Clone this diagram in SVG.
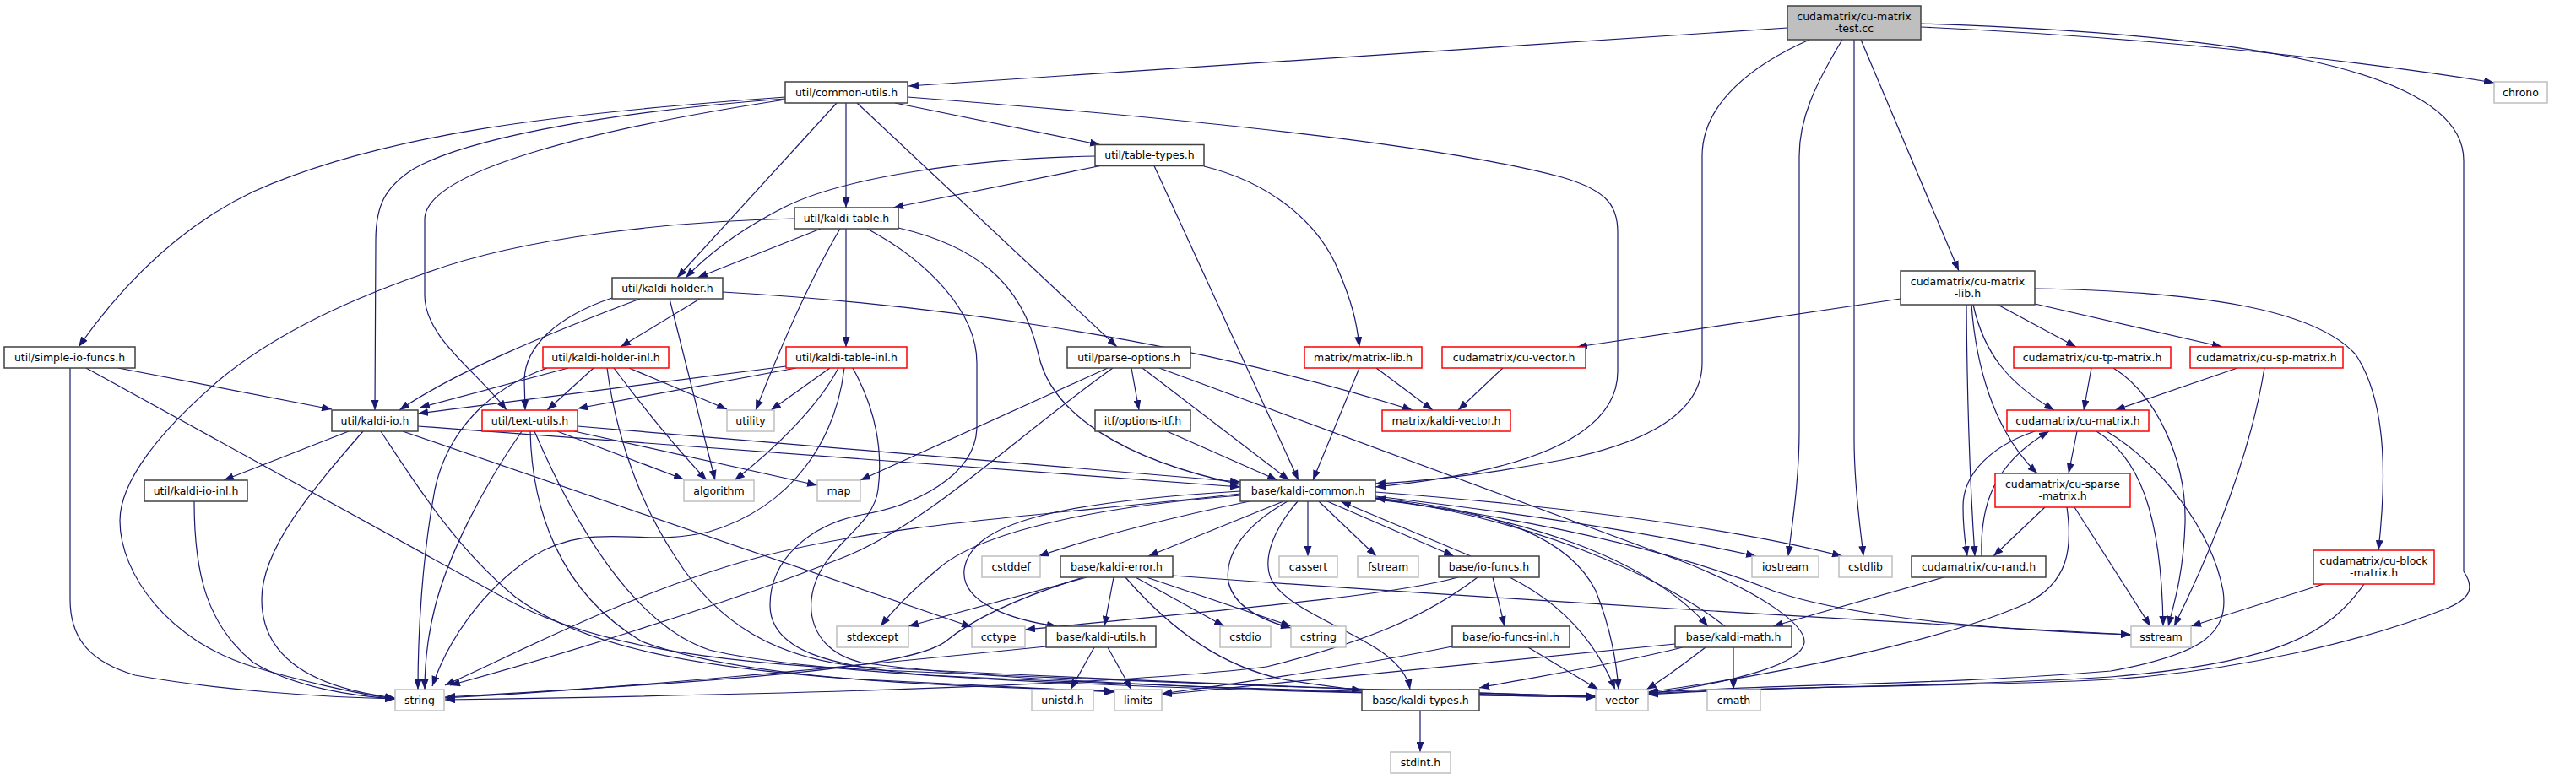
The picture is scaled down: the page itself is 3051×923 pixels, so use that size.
<svg xmlns="http://www.w3.org/2000/svg" width="3051" height="923" viewBox="0 0 3051 923">
<defs>
<marker id="a" markerUnits="userSpaceOnUse" markerWidth="12" markerHeight="9" viewBox="0 0 12 9" refX="12" refY="4.5" orient="auto">
<path d="M0,0 L12,4.5 L0,9 z" fill="#191970"/>
</marker>
</defs>
<style>
rect{fill:#ffffff;stroke:#404040;stroke-width:1.5}
.r rect{stroke:#ff0000}
.g rect{stroke:#bfbfbf}
.t rect{fill:#bfbfbf}
text{font-family:"DejaVu Sans",sans-serif;font-size:12.5px;text-anchor:middle;fill:#000000}
#edges path{fill:none;stroke:#191970;stroke-width:1.2;marker-end:url(#a)}
</style>
<rect x="0" y="0" width="3051" height="923" style="fill:#ffffff;stroke:none"/>
<g id="edges">
<path d="M2117,33 L1076,102"/>
<path d="M2275,32 C2500,42 2760,66 2954,98"/>
<path d="M2275,28 C2650,40 2918,80 2918,190 L2918,677 C2930,695 2928,708 2900,720 C2800,760 2650,795 2500,805 C2300,815 2100,812 1952,822"/>
<path d="M2196,47 L2196,520 C2196,580 2204,630 2207,659"/>
<path d="M2182,47 C2150,100 2131,140 2131,185 L2131,510 C2131,570 2122,625 2118,659"/>
<path d="M2143,47 C2080,75 2016,120 2016,185 L2016,430 C2016,490 1950,525 1850,545 C1760,562 1690,570 1629,573"/>
<path d="M2204,47 L2320,321"/>
<path d="M930,115 C650,135 450,160 300,227 C220,265 150,330 93,411"/>
<path d="M930,117 C750,130 560,160 490,200 C455,222 445,245 445,285 L444,486"/>
<path d="M930,118 C720,150 503,200 503,260 L503,350 C503,400 565,440 600,486"/>
<path d="M991,122 L802,329"/>
<path d="M1002,122 L1002,246"/>
<path d="M1015,122 L1323,411"/>
<path d="M1060,122 L1303,171.5"/>
<path d="M1075,115 C1400,140 1700,170 1850,210 C1905,226 1916,245 1916,275 L1916,440 C1916,520 1800,560 1629,577"/>
<path d="M1303,196.5 L1058,246"/>
<path d="M1297,185 C1150,188 1000,210 930,245 C880,270 840,300 812,329"/>
<path d="M1367,196.5 L1538,569"/>
<path d="M1426,197 C1500,215 1560,260 1585,320 C1600,355 1607,380 1610,411"/>
<path d="M972,271 L826,329"/>
<path d="M1002,271 L1002,411"/>
<path d="M941,259 C800,262 620,280 500,325 C400,360 320,400 260,450 C190,510 142,570 142,617 C142,680 200,760 300,790 C350,805 420,822 468,828"/>
<path d="M995,271 C960,330 925,410 895,486"/>
<path d="M1064,270 C1150,290 1210,330 1230,420 C1245,490 1330,545 1469,574"/>
<path d="M1027,271 C1100,310 1157,370 1157,430 L1157,505 C1157,565 1080,600 1020,610 C960,622 912,662 912,717 C912,770 980,790 1100,800 C1400,815 1700,822 1890,825"/>
<path d="M829,354 L735,411"/>
<path d="M758,354 C650,395 540,440 473,486"/>
<path d="M725,353 C660,375 622,410 621,450 L622,486"/>
<path d="M793,354 L847,569"/>
<path d="M856,346 C1100,360 1400,400 1673,486"/>
<path d="M140,436 L393,485"/>
<path d="M83,436 L83,710 C83,760 110,785 160,800 C260,818 380,826 468,828"/>
<path d="M102,436 C200,490 400,600 600,710 C700,765 850,785 1020,793 C1400,810 1700,820 1890,825"/>
<path d="M413,511 L265,569"/>
<path d="M430,511 C370,580 310,650 310,710 C310,780 370,815 468,827"/>
<path d="M451,511 C490,570 540,650 610,707 C680,760 800,790 1020,805 C1150,812 1250,817 1320,820"/>
<path d="M477,511 L1151,743"/>
<path d="M495,505 L1469,577"/>
<path d="M230,594 C230,680 245,740 300,785 C350,815 420,825 468,828"/>
<path d="M673,436 C600,455 545,470 497,483"/>
<path d="M703,436 L648,486"/>
<path d="M745,436 L861,485"/>
<path d="M727,436 C760,480 800,530 837,569"/>
<path d="M648,436 C580,460 530,510 515,580 C500,660 495,750 495,817"/>
<path d="M719,436 C730,520 760,600 800,660 C850,740 920,780 1020,790 C1400,810 1700,820 1890,825"/>
<path d="M931,434 L495,490"/>
<path d="M943,436 L684,484"/>
<path d="M983,436 L913,486"/>
<path d="M993,436 C970,480 920,530 870,569"/>
<path d="M1000,436 C990,520 940,600 840,630 C760,650 700,615 630,660 C570,700 530,760 512,813"/>
<path d="M1010,436 C1040,490 1045,540 1040,580 C1035,620 990,640 970,680 C950,720 960,770 1020,785 C1200,810 1600,822 1890,826"/>
<path d="M660,511 L810,568"/>
<path d="M680,511 L968,575"/>
<path d="M618,511 C570,580 530,660 515,720 C505,760 503,790 503,817"/>
<path d="M628,511 C630,600 660,700 760,760 C880,805 1100,812 1320,819"/>
<path d="M633,511 C680,620 750,740 840,770 C1000,810 1600,822 1890,826"/>
<path d="M684,505 L1469,571"/>
<path d="M1340,436 L1349,486"/>
<path d="M1312,436 L1019,569"/>
<path d="M1318,436 C1200,520 1100,620 1000,660 C850,720 650,780 533,812"/>
<path d="M1353,436 L1527,569"/>
<path d="M1373,436 L2000,668 C2090,705 2137,740 2137,760 C2137,785 2060,808 1952,822"/>
<path d="M1382,511 L1513,569"/>
<path d="M1630,436 L1697,486"/>
<path d="M1610,436 L1555,569"/>
<path d="M1780,436 L1727,486"/>
<path d="M2251,354 L1868,411"/>
<path d="M2366,361 L2459,411"/>
<path d="M2410,360 L2632,411"/>
<path d="M2410,342 C2600,345 2740,365 2790,420 C2830,480 2825,580 2817,652"/>
<path d="M2337,361 C2350,420 2380,455 2433,486"/>
<path d="M2335,361 C2340,430 2360,510 2413,561"/>
<path d="M2329,361 C2330,500 2335,600 2339,659"/>
<path d="M2460,511 L2450,561"/>
<path d="M2410,511 C2360,528 2325,560 2325,600 C2325,630 2328,645 2330,659"/>
<path d="M2347,659 C2345,600 2360,550 2427,511"/>
<path d="M2483,511 C2530,540 2560,600 2562,742"/>
<path d="M2495,511 C2560,550 2620,630 2633,700 C2640,750 2610,775 2500,795 C2300,812 2100,810 1952,821"/>
<path d="M2477,436 L2468,486"/>
<path d="M2503,436 C2550,465 2590,540 2588,620 C2586,680 2575,715 2568,742"/>
<path d="M2650,436 L2505,486"/>
<path d="M2682,436 C2670,510 2640,610 2575,742"/>
<path d="M2422,601 L2361,659"/>
<path d="M2457,601 L2547,742"/>
<path d="M2448,601 C2455,650 2450,690 2400,715 C2300,760 2100,800 1952,820"/>
<path d="M2752,692 L2595,742"/>
<path d="M2800,692 C2760,750 2700,785 2500,802 C2300,815 2100,812 1952,823"/>
<path d="M2302,684 L2100,742"/>
<path d="M1480,594 C1400,610 1300,635 1230,659"/>
<path d="M1520,594 L1360,659"/>
<path d="M1549,594 L1549,659"/>
<path d="M1562,594 L1630,659"/>
<path d="M1572,594 L1722,659"/>
<path d="M1742,659 L1588,594"/>
<path d="M1629,588 C1800,608 1950,630 2080,659"/>
<path d="M1629,583 C1850,600 2050,625 2182,659"/>
<path d="M1629,591 C1850,620 2000,660 2100,700 C2200,735 2400,748 2524,752"/>
<path d="M1629,592 C1800,610 1950,660 2023,742"/>
<path d="M2043,742 C1990,700 1850,620 1629,590"/>
<path d="M1629,590 C1780,605 1860,640 1890,700 C1910,750 1915,790 1917,817"/>
<path d="M1469,585 C1250,610 1050,620 900,660 C750,700 600,780 527,812"/>
<path d="M1469,587 C1300,600 1160,630 1110,675 C1080,700 1060,720 1043,742"/>
<path d="M1469,582 C1250,595 1150,620 1142,675 C1138,715 1200,735 1252,742"/>
<path d="M1525,594 C1470,625 1450,660 1455,690 C1462,720 1495,735 1529,744"/>
<path d="M1537,594 C1510,625 1495,660 1505,685 C1520,720 1600,745 1640,775 C1660,790 1668,805 1670,817"/>
<path d="M1287,684 L1076,742"/>
<path d="M1283,684 C1200,710 1150,735 1120,760 C1080,790 900,805 527,826"/>
<path d="M1319,684 L1308,742"/>
<path d="M1345,684 L1450,742"/>
<path d="M1358,684 L1529,742"/>
<path d="M1389,682 C1700,705 2200,735 2524,752"/>
<path d="M1333,684 C1390,750 1450,790 1520,805 C1560,812 1590,815 1613,818"/>
<path d="M1296,767 L1268,817"/>
<path d="M1312,767 L1340,817"/>
<path d="M1239,766 C1000,790 750,815 527,827"/>
<path d="M1727,684 C1650,705 1500,718 1214,746"/>
<path d="M1750,684 C1690,730 1620,760 1500,790 C1300,815 800,825 527,829"/>
<path d="M1768,684 L1782,742"/>
<path d="M1788,684 C1850,715 1890,760 1913,817"/>
<path d="M1810,767 L1893,817"/>
<path d="M1720,766 C1600,790 1450,812 1376,822"/>
<path d="M2053,767 L2053,817"/>
<path d="M1984,763 C1700,790 1500,810 1376,823"/>
<path d="M1993,767 C1900,790 1800,805 1752,815"/>
<path d="M2020,767 C1990,790 1970,805 1950,817"/>
<path d="M1682,842 L1682,891"/>
</g>
<g id="n-test" class="t"><rect x="2117" y="7" width="158" height="40"/><text x="2196" y="23.5">cudamatrix/cu-matrix</text><text x="2196" y="38">-test.cc</text></g>
<g id="n-common-utils"><rect x="930" y="97" width="145" height="25"/><text x="1002.5" y="113.5">util/common-utils.h</text></g>
<g id="n-chrono" class="g"><rect x="2954" y="97" width="63" height="25"/><text x="2985.5" y="113.5">chrono</text></g>
<g id="n-table-types"><rect x="1297" y="171.5" width="129" height="25"/><text x="1361.5" y="188">util/table-types.h</text></g>
<g id="n-kaldi-table"><rect x="941" y="246" width="123" height="25"/><text x="1002.5" y="262.5">util/kaldi-table.h</text></g>
<g id="n-kaldi-holder"><rect x="725" y="329" width="131" height="25"/><text x="790.5" y="345.5">util/kaldi-holder.h</text></g>
<g id="n-cu-matrix-lib"><rect x="2251" y="321" width="159" height="40"/><text x="2330.5" y="337.5">cudamatrix/cu-matrix</text><text x="2330.5" y="352">-lib.h</text></g>
<g id="n-simple-io-funcs"><rect x="5" y="411" width="155" height="25"/><text x="82.5" y="427.5">util/simple-io-funcs.h</text></g>
<g id="n-kaldi-holder-inl" class="r"><rect x="643" y="411" width="149" height="25"/><text x="717.5" y="427.5">util/kaldi-holder-inl.h</text></g>
<g id="n-kaldi-table-inl" class="r"><rect x="931" y="411" width="143" height="25"/><text x="1002.5" y="427.5">util/kaldi-table-inl.h</text></g>
<g id="n-parse-options"><rect x="1264" y="411" width="146" height="25"/><text x="1337" y="427.5">util/parse-options.h</text></g>
<g id="n-matrix-lib" class="r"><rect x="1545" y="411" width="139" height="25"/><text x="1614.5" y="427.5">matrix/matrix-lib.h</text></g>
<g id="n-cu-vector" class="r"><rect x="1708" y="411" width="170" height="25"/><text x="1793" y="427.5">cudamatrix/cu-vector.h</text></g>
<g id="n-cu-tp-matrix" class="r"><rect x="2385" y="411" width="186" height="25"/><text x="2478" y="427.5">cudamatrix/cu-tp-matrix.h</text></g>
<g id="n-cu-sp-matrix" class="r"><rect x="2594" y="411" width="181" height="25"/><text x="2684.5" y="427.5">cudamatrix/cu-sp-matrix.h</text></g>
<g id="n-kaldi-io"><rect x="393" y="486" width="102" height="25"/><text x="444" y="502.5">util/kaldi-io.h</text></g>
<g id="n-text-utils" class="r"><rect x="571" y="486" width="113" height="25"/><text x="627.5" y="502.5">util/text-utils.h</text></g>
<g id="n-utility" class="g"><rect x="861" y="486" width="56" height="25"/><text x="889" y="502.5">utility</text></g>
<g id="n-options-itf"><rect x="1297" y="486" width="113" height="25"/><text x="1353.5" y="502.5">itf/options-itf.h</text></g>
<g id="n-kaldi-vector" class="r"><rect x="1637" y="486" width="152" height="25"/><text x="1713" y="502.5">matrix/kaldi-vector.h</text></g>
<g id="n-cu-matrix" class="r"><rect x="2377" y="486" width="168" height="25"/><text x="2461" y="502.5">cudamatrix/cu-matrix.h</text></g>
<g id="n-kaldi-io-inl"><rect x="171" y="569" width="122" height="25"/><text x="232" y="585.5">util/kaldi-io-inl.h</text></g>
<g id="n-algorithm" class="g"><rect x="810" y="569" width="83" height="25"/><text x="851.5" y="585.5">algorithm</text></g>
<g id="n-map" class="g"><rect x="968" y="569" width="51" height="25"/><text x="993.5" y="585.5">map</text></g>
<g id="n-kaldi-common"><rect x="1469" y="569" width="160" height="25"/><text x="1549" y="585.5">base/kaldi-common.h</text></g>
<g id="n-cu-sparse-matrix" class="r"><rect x="2363" y="561" width="160" height="40"/><text x="2443" y="577.5">cudamatrix/cu-sparse</text><text x="2443" y="592">-matrix.h</text></g>
<g id="n-cu-block-matrix" class="r"><rect x="2740" y="652" width="143" height="40"/><text x="2811.5" y="668.5">cudamatrix/cu-block</text><text x="2811.5" y="683">-matrix.h</text></g>
<g id="n-cstddef" class="g"><rect x="1163" y="659" width="69" height="25"/><text x="1197.5" y="675.5">cstddef</text></g>
<g id="n-kaldi-error"><rect x="1256" y="659" width="133" height="25"/><text x="1322.5" y="675.5">base/kaldi-error.h</text></g>
<g id="n-cassert" class="g"><rect x="1515" y="659" width="69" height="25"/><text x="1549.5" y="675.5">cassert</text></g>
<g id="n-fstream" class="g"><rect x="1608" y="659" width="72" height="25"/><text x="1644" y="675.5">fstream</text></g>
<g id="n-io-funcs"><rect x="1704" y="659" width="119" height="25"/><text x="1763.5" y="675.5">base/io-funcs.h</text></g>
<g id="n-iostream" class="g"><rect x="2075" y="659" width="79" height="25"/><text x="2114.5" y="675.5">iostream</text></g>
<g id="n-cstdlib" class="g"><rect x="2178" y="659" width="63" height="25"/><text x="2209.5" y="675.5">cstdlib</text></g>
<g id="n-cu-rand"><rect x="2264" y="659" width="159" height="25"/><text x="2343.5" y="675.5">cudamatrix/cu-rand.h</text></g>
<g id="n-stdexcept" class="g"><rect x="991" y="742" width="85" height="25"/><text x="1033.5" y="758.5">stdexcept</text></g>
<g id="n-cctype" class="g"><rect x="1151" y="742" width="63" height="25"/><text x="1182.5" y="758.5">cctype</text></g>
<g id="n-kaldi-utils"><rect x="1239" y="742" width="130" height="25"/><text x="1304" y="758.5">base/kaldi-utils.h</text></g>
<g id="n-cstdio" class="g"><rect x="1445" y="742" width="60" height="25"/><text x="1475" y="758.5">cstdio</text></g>
<g id="n-cstring" class="g"><rect x="1529" y="742" width="65" height="25"/><text x="1561.5" y="758.5">cstring</text></g>
<g id="n-io-funcs-inl"><rect x="1720" y="742" width="139" height="25"/><text x="1789.5" y="758.5">base/io-funcs-inl.h</text></g>
<g id="n-kaldi-math"><rect x="1984" y="742" width="138" height="25"/><text x="2053" y="758.5">base/kaldi-math.h</text></g>
<g id="n-sstream" class="g"><rect x="2524" y="742" width="71" height="25"/><text x="2559.5" y="758.5">sstream</text></g>
<g id="n-string" class="g"><rect x="468" y="817" width="58" height="25"/><text x="497" y="833.5">string</text></g>
<g id="n-unistd" class="g"><rect x="1222" y="817" width="73" height="25"/><text x="1258.5" y="833.5">unistd.h</text></g>
<g id="n-limits" class="g"><rect x="1320" y="817" width="56" height="25"/><text x="1348" y="833.5">limits</text></g>
<g id="n-kaldi-types"><rect x="1613" y="817" width="139" height="25"/><text x="1682.5" y="833.5">base/kaldi-types.h</text></g>
<g id="n-vector" class="g"><rect x="1890" y="817" width="62" height="25"/><text x="1921" y="833.5">vector</text></g>
<g id="n-cmath" class="g"><rect x="2022" y="817" width="63" height="25"/><text x="2053.5" y="833.5">cmath</text></g>
<g id="n-stdint" class="g"><rect x="1647" y="891" width="71" height="25"/><text x="1682.5" y="907.5">stdint.h</text></g>
</svg>
